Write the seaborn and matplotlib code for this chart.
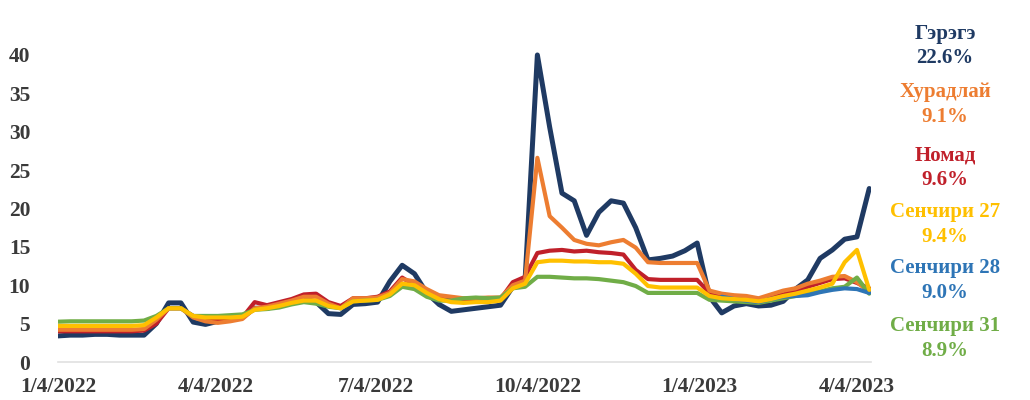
import pandas as pd
import numpy as np
import matplotlib
matplotlib.use("Agg")
import matplotlib.pyplot as plt
import seaborn as sns

# weekly observations, 2022-01-04 .. 2023-04-11
dates = pd.date_range("2022-01-04", periods=67, freq="7D")

gerege = [3.4, 3.5, 3.5, 3.6, 3.6, 3.5, 3.5, 3.5, 5.0, 7.7,
          7.7, 5.2, 4.9, 5.3, 5.5, 5.8, 7.0, 7.0, 7.4, 7.9,
          8.3, 7.8, 6.3, 6.2, 7.5, 7.6, 7.8, 10.5, 12.6, 11.5,
          9.0, 7.5, 6.6, 6.8, 7.0, 7.2, 7.4, 9.8, 10.7, 40.0,
          30.6, 22.0, 21.0, 16.5, 19.5, 21.0, 20.7, 17.5, 13.3, 13.5,
          13.8, 14.5, 15.5, 8.5, 6.4, 7.3, 7.6, 7.3, 7.4, 7.9,
          9.5, 10.7, 13.5, 14.6, 16.0, 16.3, 22.6]
khuradlai = [4.2, 4.2, 4.2, 4.2, 4.2, 4.2, 4.2, 4.3, 5.5, 7.0,
             7.0, 5.8, 5.3, 5.1, 5.3, 5.6, 7.0, 7.2, 7.6, 8.0,
             8.5, 8.5, 7.6, 7.0, 8.3, 8.3, 8.4, 9.0, 10.8, 10.5,
             9.5, 8.7, 8.5, 8.3, 8.3, 8.4, 8.4, 10.0, 10.6, 26.6,
             19.0, 17.5, 15.9, 15.4, 15.2, 15.6, 15.9, 14.9, 13.0, 12.9,
             12.9, 12.9, 12.9, 9.3, 8.9, 8.7, 8.6, 8.3, 8.8, 9.3,
             9.6, 10.2, 10.6, 11.1, 11.2, 10.4, 9.1]
nomad = [4.0, 4.0, 4.0, 4.0, 4.0, 4.0, 4.0, 4.1, 5.0, 7.0,
         7.0, 6.0, 5.6, 5.5, 5.6, 5.8, 7.8, 7.4, 7.8, 8.2,
         8.8, 8.9, 7.8, 7.3, 8.3, 8.3, 8.5, 9.2, 11.0, 10.0,
         8.8, 8.5, 8.0, 8.0, 8.1, 8.1, 8.2, 10.4, 11.1, 14.2,
         14.5, 14.6, 14.4, 14.5, 14.3, 14.2, 14.0, 12.0, 10.8, 10.7,
         10.7, 10.7, 10.7, 9.0, 8.7, 8.5, 8.4, 8.2, 8.5, 8.8,
         9.3, 9.8, 10.3, 10.8, 10.9, 10.3, 9.6]
senchiri27 = [4.7, 4.7, 4.7, 4.7, 4.7, 4.7, 4.7, 4.8, 5.8, 7.0,
              7.0, 6.0, 5.8, 5.8, 5.8, 5.9, 6.8, 7.0, 7.3, 7.7,
              8.0, 8.0, 7.3, 7.0, 7.9, 8.0, 8.1, 8.8, 10.2, 10.0,
              9.0, 8.2, 7.8, 7.7, 7.8, 7.8, 8.0, 9.6, 10.2, 13.0,
              13.2, 13.2, 13.1, 13.1, 13.0, 13.0, 12.8, 11.5, 9.9, 9.7,
              9.7, 9.7, 9.7, 8.6, 8.3, 8.2, 8.1, 7.9, 8.2, 8.6,
              8.9, 9.3, 9.7, 10.2, 13.0, 14.6, 9.4]
senchiri28 = [np.nan] * 54 + [8.5, 8.2, 8.0, 7.8, 8.2, 8.5,
                              8.6, 8.7, 9.1, 9.4, 9.6, 9.5, 9.0]
senchiri31 = [5.25, 5.3, 5.3, 5.3, 5.3, 5.3, 5.3, 5.4, 6.0, 7.0,
              7.0, 6.0, 6.0, 6.0, 6.1, 6.2, 6.8, 6.9, 7.1, 7.5,
              7.8, 7.6, 7.2, 7.0, 7.9, 8.0, 8.1, 8.6, 9.8, 9.5,
              8.5, 8.0, 8.0, 8.3, 8.4, 8.3, 8.4, 9.6, 9.8, 11.1,
              11.1, 11.0, 10.9, 10.9, 10.8, 10.6, 10.4, 9.9, 9.0, 9.0,
              9.0, 9.0, 9.0, 8.1, 8.0, 7.9, 7.8, 7.7, 8.0, 8.3,
              8.6, 8.9, 9.2, 9.6, 9.8, 11.0, 8.9]

names = ["Гэрэгэ", "Хурадлай", "Номад", "Сенчири 27", "Сенчири 28", "Сенчири 31"]
last_vals = ["22.6%", "9.1%", "9.6%", "9.4%", "9.0%", "8.9%"]
colors = ["#1f3a63", "#ed7d31", "#c0202a", "#ffc000", "#2e75b6", "#70ad47"]
series = [gerege, khuradlai, nomad, senchiri27, senchiri28, senchiri31]

tick_dates = ["2022-01-04", "2022-04-04", "2022-07-04", "2022-10-04", "2023-01-04", "2023-04-04"]
tick_labels = ["1/4/2022", "4/4/2022", "7/4/2022", "10/4/2022", "1/4/2023", "4/4/2023"]

sns.set_theme(style="white")
plt.rcParams['font.family'] = ['Liberation Serif', 'DejaVu Serif']
plt.rcParams['font.weight'] = 'bold'

fig = plt.figure(figsize=(10.3, 4), dpi=100)
ax = fig.add_axes([58 / 1030, 38 / 400, 813 / 1030, 322 / 400])

# draw order: navy first, the rest on top
order = [0, 2, 1, 5, 4, 3]
for k in order:
    df = pd.DataFrame({"date": dates, "val": series[k]})
    sns.lineplot(data=df, x="date", y="val", ax=ax, color=colors[k],
                 linewidth=3.6 if k == 0 else 3.0, solid_joinstyle="round")

ax.set_xlim(pd.Timestamp("2022-01-04"), pd.Timestamp("2023-04-12"))
ax.set_ylim(0, 41.95)
ax.set_yticks(range(0, 41, 5))
ax.set_yticklabels([str(v) for v in range(0, 41, 5)], fontsize=15.5,
                   fontweight="bold", color="#3a3a3a")
ax.set_xticks(pd.to_datetime(tick_dates))
ax.set_xticklabels(tick_labels, fontsize=15.5, fontweight="bold", color="#3a3a3a")
ax.tick_params(axis="y", length=0, pad=20)
ax.tick_params(axis="x", length=0, pad=11)
ax.set_xlabel("")
ax.set_ylabel("")
for s in ["top", "right", "left"]:
    ax.spines[s].set_visible(False)
ax.spines["bottom"].set_color("#e0e0e0")
ax.spines["bottom"].set_linewidth(1.2)
ax.grid(False)

# end-of-series labels on the right
label_y = [46, 104.5, 167.5, 224.5, 280.5, 338.5]
for name, val, c, yy in zip(names, last_vals, colors, label_y):
    fig.text(945 / 1030, 1 - yy / 400, name + "\n" + val, color=c, fontsize=15,
             fontweight="bold", ha="center", va="center", linespacing=1.3)

fig.savefig("out.png", dpi=100, facecolor="white")
